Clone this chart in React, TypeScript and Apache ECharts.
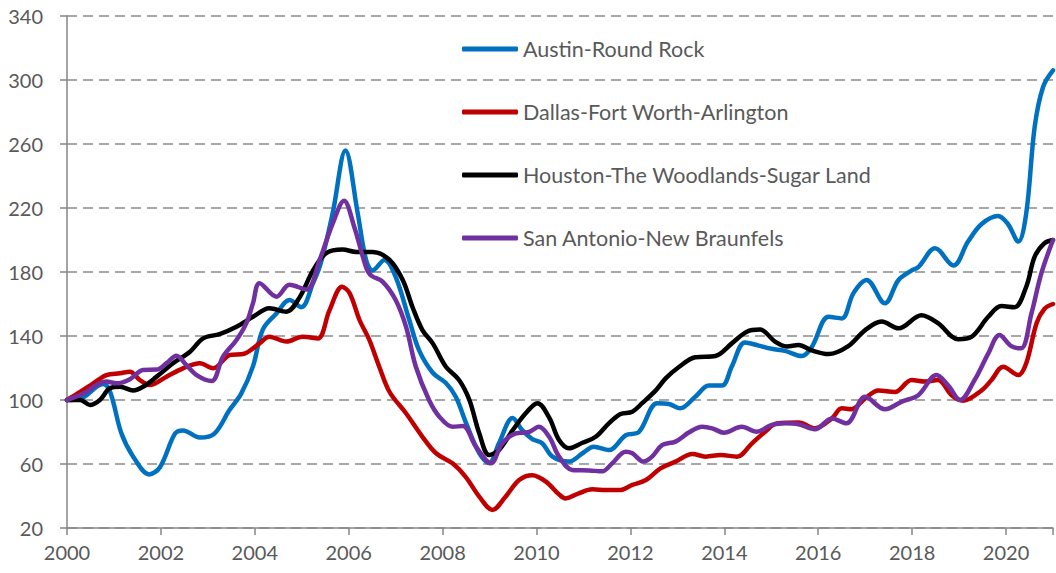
import React, { useEffect, useRef } from "react";
import * as echarts from "echarts";

const seriesNames = [
  "Austin-Round Rock",
  "Dallas-Fort Worth-Arlington",
  "Houston-The Woodlands-Sugar Land",
  "San Antonio-New Braunfels",
];
const seriesColors = ["#0070C0", "#C00000", "#000000", "#7030A0"];

const yearTicks = [2000, 2002, 2004, 2006, 2008, 2010, 2012, 2014, 2016, 2018, 2020];

const austin: [number, number][] = [
  [2000, 100], [2000.3, 101], [2000.77, 110], [2000.92, 105], [2001.16, 79], [2001.41, 64.6],
  [2001.75, 53.5], [2001.98, 58], [2002.3, 79], [2002.47, 81], [2002.83, 76.5], [2003.14, 79],
  [2003.46, 93.7], [2003.71, 104], [2003.96, 121], [2004.17, 144], [2004.46, 154], [2004.74, 162.5],
  [2004.99, 158], [2005.24, 173], [2005.4, 185], [2005.66, 217], [2005.93, 256], [2006.19, 217],
  [2006.37, 187.5], [2006.51, 181], [2006.76, 187.5], [2007.0, 177], [2007.29, 150], [2007.5, 131],
  [2007.79, 117], [2008.07, 110.6], [2008.28, 102], [2008.5, 85.6], [2008.78, 66.8], [2008.99, 60.6],
  [2009.2, 73], [2009.49, 88.7], [2009.7, 81], [2009.91, 75.6], [2010.12, 73], [2010.34, 64.6],
  [2010.69, 61.5], [2010.98, 66.7], [2011.22, 70.8], [2011.54, 68.7], [2011.9, 78], [2012.18, 80],
  [2012.57, 98], [2012.82, 97.5], [2013.06, 94.8], [2013.38, 102], [2013.67, 109], [2013.95, 109],
  [2014.16, 121], [2014.44, 136], [2014.73, 134], [2015.01, 132], [2015.29, 130.7], [2015.65, 127.5],
  [2015.86, 133], [2016.22, 152], [2016.5, 151], [2016.75, 166.8], [2017.03, 175], [2017.42, 160.4],
  [2017.71, 175], [2017.99, 181], [2018.13, 183], [2018.49, 194.8], [2018.88, 184], [2019.19, 199],
  [2019.48, 210], [2019.83, 215], [2020.04, 210], [2020.26, 199], [2020.43, 216.7], [2020.61, 270.8],
  [2020.79, 295.8], [2021, 306],
];

const dallas: [number, number][] = [
  [2000, 100], [2000.28, 105], [2000.56, 110.4], [2000.84, 115.6], [2001.13, 116.7], [2001.34, 117.7],
  [2001.55, 112.5], [2001.76, 109.4], [2002.12, 114.6], [2002.47, 119.8], [2002.83, 123], [2003.11, 119.8],
  [2003.46, 128], [2003.78, 129], [2004.1, 135.4], [2004.31, 139.6], [2004.67, 136.5], [2005.02, 139.6],
  [2005.34, 138.5], [2005.59, 156], [2005.86, 170.8], [2006.02, 166.7], [2006.23, 150], [2006.44, 137.5],
  [2006.65, 120.8], [2006.87, 105], [2007.22, 91.7], [2007.57, 77], [2007.86, 66.7], [2008.21, 60.4],
  [2008.49, 52], [2008.78, 39.6], [2009.06, 31.3], [2009.34, 39.6], [2009.63, 50], [2009.91, 53],
  [2010.2, 49], [2010.48, 41], [2010.62, 38.5], [2010.9, 41.7], [2011.19, 44.2], [2011.47, 43.7],
  [2011.76, 43.7], [2012.04, 46.9], [2012.33, 50], [2012.64, 57.3], [2012.96, 61.5], [2013.32, 66.3],
  [2013.6, 64.6], [2013.92, 65.6], [2014.27, 64.6], [2014.59, 72.9], [2014.87, 80.2], [2015.12, 85.4],
  [2015.58, 86], [2015.93, 82.3], [2016.29, 88.5], [2016.5, 94.8], [2016.71, 94.2], [2017.0, 101],
  [2017.28, 106], [2017.63, 105], [2017.99, 112.5], [2018.27, 111.5], [2018.55, 112.5], [2018.84, 103],
  [2019.09, 99.6], [2019.48, 106], [2019.69, 112.5], [2019.94, 120.8], [2020.26, 115.6], [2020.43, 123],
  [2020.65, 148], [2020.82, 157], [2021, 160],
];

const houston: [number, number][] = [
  [2000, 100], [2000.28, 100], [2000.49, 96.9], [2000.7, 100], [2000.91, 107.3], [2001.13, 108.3],
  [2001.41, 106], [2001.62, 108.3], [2001.91, 114.6], [2002.26, 123], [2002.62, 130.2], [2002.9, 138.5],
  [2003.25, 141.2], [2003.61, 145.8], [2003.96, 152], [2004.31, 157.3], [2004.67, 155.2], [2004.95, 164],
  [2005.24, 181], [2005.52, 191.7], [2005.87, 194], [2006.16, 192.5], [2006.51, 192.5], [2006.87, 187.5],
  [2007.15, 175], [2007.36, 158], [2007.57, 143.7], [2007.79, 135.4], [2008.07, 120.8], [2008.35, 112.5],
  [2008.57, 100], [2008.78, 79.2], [2008.99, 65.6], [2009.2, 68.7], [2009.49, 81], [2009.77, 91.7],
  [2010.02, 98], [2010.27, 89], [2010.48, 75], [2010.69, 69.8], [2010.98, 73.3], [2011.26, 77],
  [2011.54, 85.4], [2011.79, 91.2], [2012.04, 92.7], [2012.25, 98], [2012.54, 106], [2012.75, 113.5],
  [2013.04, 120.8], [2013.38, 126.7], [2013.81, 127.5], [2014.16, 135.4], [2014.48, 142.7], [2014.76, 144],
  [2015.08, 136.5], [2015.33, 133.5], [2015.58, 134.4], [2015.86, 131], [2016.22, 128.7], [2016.64, 133.7],
  [2017.0, 143.7], [2017.35, 149], [2017.71, 144.8], [2018.2, 153], [2018.55, 148], [2018.98, 138],
  [2019.26, 139.4], [2019.62, 152], [2019.9, 158.7], [2020.18, 158], [2020.43, 170.8], [2020.61, 189.6],
  [2020.82, 198], [2021, 200],
];

const sanAntonio: [number, number][] = [
  [2000, 100], [2000.35, 104], [2000.63, 109.4], [2000.84, 111.5], [2001.06, 110.4], [2001.34, 113],
  [2001.62, 118.8], [2001.91, 119], [2002.12, 123], [2002.33, 127.7], [2002.54, 121.9], [2002.76, 115.6],
  [2003.08, 111.9], [2003.32, 127], [2003.61, 137.5], [2003.82, 148], [2003.96, 160.4], [2004.1, 173],
  [2004.46, 164.6], [2004.74, 172], [2005.1, 169], [2005.38, 187.5], [2005.66, 210.4], [2005.9, 224.6],
  [2006.12, 208], [2006.37, 183], [2006.48, 177.7], [2006.72, 174], [2007.0, 162.5], [2007.22, 145.8],
  [2007.43, 120.8], [2007.71, 100], [2007.93, 89.6], [2008.21, 83.3], [2008.43, 83.7], [2008.71, 70.8],
  [2009.03, 60.4], [2009.27, 73], [2009.56, 79.2], [2009.84, 80], [2010.05, 83.3], [2010.27, 77],
  [2010.48, 64.6], [2010.76, 56.3], [2011.12, 56], [2011.4, 55.4], [2011.61, 60.4], [2011.9, 67.7],
  [2012.04, 66.7], [2012.28, 61.5], [2012.46, 64.6], [2012.68, 71.9], [2012.96, 74], [2013.25, 79.8],
  [2013.53, 83.3], [2013.74, 82.3], [2013.99, 79.6], [2014.37, 83.3], [2014.69, 80.2], [2015.01, 84.4],
  [2015.29, 85.4], [2015.58, 84.8], [2015.93, 81.7], [2016.29, 88.5], [2016.6, 85.4], [2017.0, 102],
  [2017.42, 94.2], [2017.78, 99], [2018.13, 103], [2018.52, 115.6], [2018.77, 109], [2019.02, 100],
  [2019.33, 112.5], [2019.62, 129], [2019.86, 140.6], [2020.11, 133.7], [2020.32, 132.3], [2020.54, 154],
  [2020.75, 179], [2021, 200],
];

const seriesData = [austin, dallas, houston, sanAntonio];

export default function App() {
  const ref = useRef<HTMLDivElement>(null);
  useEffect(() => {
    if (!ref.current) return;
    const chart = echarts.init(ref.current, undefined, { renderer: "svg" });
    const font = "Lato, 'Open Sans', sans-serif";
    chart.setOption({
      animation: false,
      grid: { left: 67, right: 0, top: 16, bottom: 45, containLabel: false },
      legend: {
        orient: "vertical",
        left: 457,
        top: 33,
        itemWidth: 56,
        itemHeight: 5,
        itemGap: 41,
        icon: "roundRect",
        textStyle: { fontFamily: font, fontSize: 21.5, color: "#595959", lineHeight: 20 },
        data: seriesNames,
      },
      xAxis: {
        type: "value",
        min: 2000,
        max: 2021,
        interval: 2,
        axisLine: { show: true, lineStyle: { color: "#868686", width: 1.5 } },
        axisTick: { show: true, length: 7, lineStyle: { color: "#868686", width: 1.5 } },
        splitLine: { show: false },
        axisLabel: {
          fontFamily: font,
          fontSize: 20,
          color: "#595959",
          margin: 14,
          formatter: (v: number) => (yearTicks.includes(v) ? String(v) : ""),
        },
      },
      yAxis: {
        type: "value",
        min: 20,
        max: 340,
        interval: 40,
        axisLine: { show: true, lineStyle: { color: "#868686", width: 1.5 } },
        axisTick: { show: true, length: 7, lineStyle: { color: "#868686", width: 1.5 } },
        splitLine: { show: true, lineStyle: { color: "#8c8c8c", width: 1.5, type: [10, 6] } },
        axisLabel: { fontFamily: font, fontSize: 20, color: "#595959", margin: 24 },
      },
      series: seriesNames.map((name, i) => ({
        name,
        type: "line",
        data: seriesData[i],
        smooth: 0.35,
        showSymbol: false,
        symbol: "none",
        color: seriesColors[i],
        lineStyle: { width: 4.5, color: seriesColors[i], cap: "round", join: "round" },
        clip: true,
      })),
    });
    return () => chart.dispose();
  }, []);
  return (
    <div
      ref={ref}
      style={{ position: "fixed", left: 0, top: 0, width: 1056, height: 573, background: "#fff" }}
    />
  );
}
